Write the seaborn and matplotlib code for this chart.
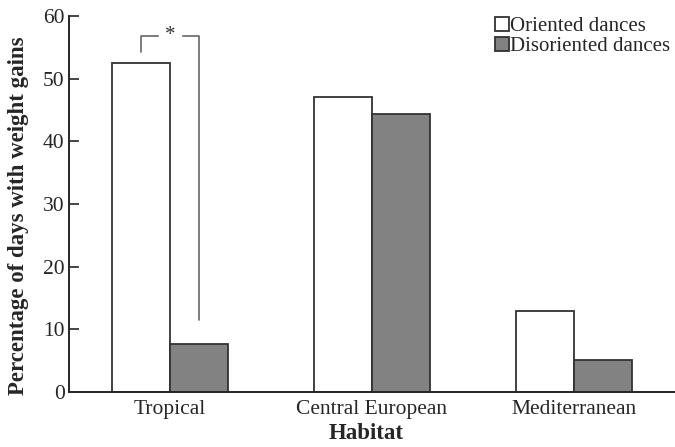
import pandas as pd
import seaborn as sns
import matplotlib.pyplot as plt

habitats = ["Tropical", "Central European", "Mediterranean"]
oriented = [52.5, 47.1, 12.9]
disoriented = [7.7, 44.3, 5.1]
groups = ["Oriented dances", "Disoriented dances"]

df = pd.DataFrame({
    "Habitat": habitats * 2,
    "Dance": [groups[0]] * 3 + [groups[1]] * 3,
    "value": oriented + disoriented,
})

sns.set_style("ticks")
plt.rcParams["font.family"] = ["Liberation Serif", "DejaVu Serif"]

fig = plt.figure(figsize=(6.75, 4.47), dpi=100)
ax = fig.add_axes([0.102, 0.123, 0.898, 0.841])

sns.barplot(data=df, x="Habitat", y="value", hue="Dance", order=habitats,
            hue_order=groups, palette=["white", "#828282"], width=0.572,
            edgecolor="#333333", linewidth=1.3, saturation=1, ax=ax)

ax.set_xlim(-0.5, 2.5)
ax.set_ylim(0, 60)
ax.set_yticks([0, 10, 20, 30, 40, 50, 60])
ax.tick_params(axis="y", direction="in", length=7, width=1.2, labelsize=15.5, pad=3)
ax.tick_params(axis="x", length=0, labelsize=15.5, pad=6)
for s in ["top", "right"]:
    ax.spines[s].set_visible(False)
ax.spines["left"].set_linewidth(1.4)
ax.spines["bottom"].set_linewidth(1.4)

ax.set_xlabel("Habitat", fontsize=16.5, fontweight="bold")
ax.set_ylabel("Percentage of days with weight gains", fontsize=16.5,
              fontweight="bold")
ax.xaxis.set_label_coords(0.49, -0.083)
ax.yaxis.set_label_coords(-0.066, 0.47)

# significance bracket
bx = [-0.143, -0.143, 0.143, 0.143]
by = [54.2, 56.9, 56.9, 11.5]
ax.plot(bx, by, color="#666666", lw=1.2)
ax.text(0.0, 56.9, "*", ha="center", va="center", fontsize=15,
        color="#333333", backgroundcolor="white")

handles, labels = ax.get_legend_handles_labels()
ax.legend(handles, labels, loc="upper right", bbox_to_anchor=(1.005, 1.02),
          frameon=False, fontsize=15, handlelength=0.65, handleheight=0.65,
          handletextpad=0.05, labelspacing=0.05, borderaxespad=0)

fig.savefig("out.png", dpi=100)
